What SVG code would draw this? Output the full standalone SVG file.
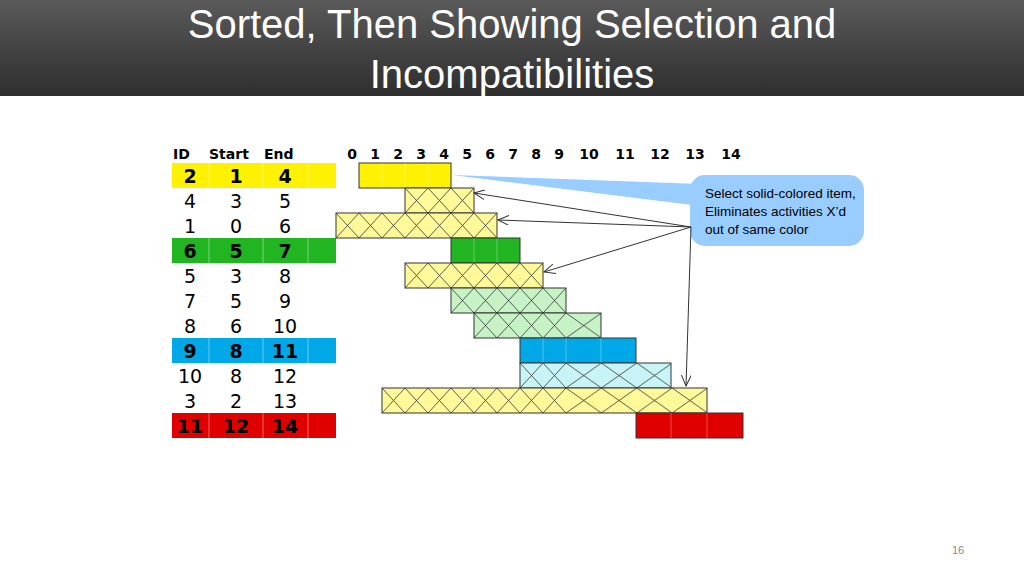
<svg xmlns="http://www.w3.org/2000/svg" width="1024" height="576" viewBox="0 0 1024 576">
<defs>
<linearGradient id="hdr" x1="0" y1="0" x2="0" y2="1"><stop offset="0" stop-color="#5a5a5a"/><stop offset="1" stop-color="#2e2e2e"/></linearGradient>
<pattern id="pA" patternUnits="userSpaceOnUse" x="336" y="163" width="23" height="25"><path d="M0 0L23 25M23 0L0 25" stroke="#333" stroke-width="0.8"/></pattern>
<pattern id="pB" patternUnits="userSpaceOnUse" x="566" y="163" width="35.4" height="25"><path d="M0 0L35.4 25M35.4 0L0 25" stroke="#333" stroke-width="0.8"/></pattern>
<marker id="ar" markerWidth="12" markerHeight="10" refX="11" refY="5" orient="auto" markerUnits="userSpaceOnUse"><path d="M0 0L11 5L0 10" fill="none" stroke="#333" stroke-width="1"/></marker>
<style>
.t{font-family:"Liberation Sans",Arial,sans-serif}
.v{font-family:Verdana,"DejaVu Sans",sans-serif;font-size:19px;text-anchor:middle}
.b{font-weight:bold}
.h{font-family:Verdana,"DejaVu Sans",sans-serif;font-size:14px;font-weight:bold}
.bar{stroke:#333;stroke-width:1}
</style>
</defs>
<rect width="1024" height="576" fill="#fff"/>
<g id="title">
<rect width="1024" height="96" fill="url(#hdr)"/>
<text class="t" x="512" y="38" font-size="40" fill="#fff" text-anchor="middle">Sorted, Then Showing Selection and</text>
<text class="t" x="512" y="88" font-size="40" fill="#fff" text-anchor="middle">Incompatibilities</text>
</g>
<g id="table">
<text class="h" x="173" y="159">ID</text><text class="h" x="209" y="159">Start</text><text class="h" x="264" y="159">End</text>
<rect x="172" y="163" width="164" height="25" fill="#FFF200"/>
<rect x="172" y="238" width="164" height="25" fill="#22B522"/>
<rect x="172" y="338" width="164" height="25" fill="#00A8E8"/>
<rect x="172" y="413" width="164" height="25" fill="#E00000"/>
<g stroke="#fff" stroke-opacity="0.4"><path d="M209 163v25M263 163v25M308 163v25M209 238v25M263 238v25M308 238v25M209 338v25M263 338v25M308 338v25M209 413v25M263 413v25M308 413v25"/></g>
<g class="v">
<text class="b" x="190" y="183">2</text><text class="b" x="236" y="183">1</text><text class="b" x="285" y="183">4</text>
<text x="190" y="208">4</text><text x="236" y="208">3</text><text x="285" y="208">5</text>
<text x="190" y="233">1</text><text x="236" y="233">0</text><text x="285" y="233">6</text>
<text class="b" x="190" y="258">6</text><text class="b" x="236" y="258">5</text><text class="b" x="285" y="258">7</text>
<text x="190" y="283">5</text><text x="236" y="283">3</text><text x="285" y="283">8</text>
<text x="190" y="308">7</text><text x="236" y="308">5</text><text x="285" y="308">9</text>
<text x="190" y="333">8</text><text x="236" y="333">6</text><text x="285" y="333">10</text>
<text class="b" x="190" y="358">9</text><text class="b" x="236" y="358">8</text><text class="b" x="285" y="358">11</text>
<text x="190" y="383">10</text><text x="236" y="383">8</text><text x="285" y="383">12</text>
<text x="190" y="408">3</text><text x="236" y="408">2</text><text x="285" y="408">13</text>
<text class="b" x="190" y="433">11</text><text class="b" x="236" y="433">12</text><text class="b" x="285" y="433">14</text>
</g>
</g>
<g id="axis" class="h" text-anchor="middle">
<text x="352" y="159">0</text><text x="375" y="159">1</text><text x="398" y="159">2</text><text x="421" y="159">3</text><text x="444" y="159">4</text><text x="467" y="159">5</text><text x="490" y="159">6</text><text x="513" y="159">7</text><text x="536" y="159">8</text><text x="559" y="159">9</text><text x="589" y="159">10</text><text x="625" y="159">11</text><text x="660" y="159">12</text><text x="695" y="159">13</text><text x="731" y="159">14</text>
</g>
<g id="bars">
<rect class="bar" x="359" y="163" width="92" height="25" fill="#FFF200"/>
<rect x="405" y="188" width="69" height="25" fill="#FFF99A"/><rect class="bar" x="405" y="188" width="69" height="25" fill="url(#pA)"/>
<rect x="336" y="213" width="161" height="25" fill="#FFF99A"/><rect class="bar" x="336" y="213" width="161" height="25" fill="url(#pA)"/>
<rect class="bar" x="451" y="238" width="69" height="25" fill="#22B522"/>
<rect x="405" y="263" width="138" height="25" fill="#FFF99A"/><rect class="bar" x="405" y="263" width="138" height="25" fill="url(#pA)"/>
<rect x="451" y="288" width="115" height="25" fill="#C6F2C6"/><rect class="bar" x="451" y="288" width="115" height="25" fill="url(#pA)"/>
<rect x="474" y="313" width="127" height="25" fill="#C6F2C6"/><rect x="474" y="313" width="92" height="25" fill="url(#pA)"/><rect x="566" y="313" width="35" height="25" fill="url(#pB)"/><rect class="bar" x="474" y="313" width="127" height="25" fill="none"/>
<rect class="bar" x="520" y="338" width="116" height="25" fill="#00A8E8"/>
<rect x="520" y="363" width="151" height="25" fill="#C8F4F8"/><rect x="520" y="363" width="46" height="25" fill="url(#pA)"/><rect x="566" y="363" width="105" height="25" fill="url(#pB)"/><rect class="bar" x="520" y="363" width="151" height="25" fill="none"/>
<rect x="382" y="388" width="325" height="25" fill="#FFF99A"/><rect x="382" y="388" width="184" height="25" fill="url(#pA)"/><rect x="566" y="388" width="141" height="25" fill="url(#pB)"/><rect class="bar" x="382" y="388" width="325" height="25" fill="none"/>
<rect class="bar" x="636" y="413" width="107" height="25" fill="#E00000"/>
<g stroke="#fff" stroke-opacity="0.3"><path d="M382 163v25M405 163v25M428 163v25M474 238v25M497 238v25M543 338v25M566 338v25M601 338v25M671 413v25M707 413v25"/></g>
</g>
<g id="callout">
<path d="M452 175L700 184L700 206Z" fill="#99CCFF"/>
<rect x="690" y="175" width="174" height="71" rx="15" fill="#99CCFF"/>
<text class="t" font-size="13.5" fill="#000"><tspan x="705" y="198">Select solid-colored item,</tspan><tspan x="705" y="216">Eliminates activities X’d</tspan><tspan x="705" y="234">out of same color</tspan></text>
</g>
<g id="connectors" stroke="#333" stroke-width="1" fill="none" marker-end="url(#ar)">
<path d="M691 227L474 193"/><path d="M691 227L498 220"/><path d="M691 227L544 272"/><path d="M691 227L686 386"/>
</g>
<text class="t" x="958" y="554" font-size="11" fill="#888" text-anchor="middle">16</text>
</svg>
